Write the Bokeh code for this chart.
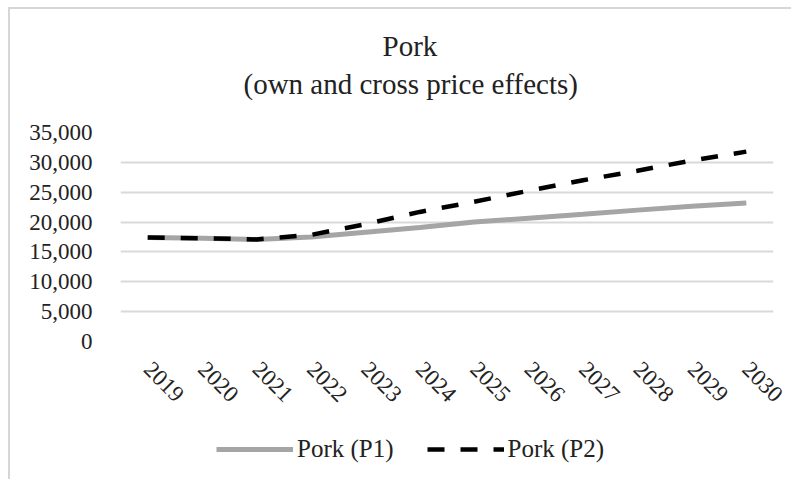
import math
from bokeh.plotting import figure
from bokeh.layouts import column
from bokeh.models import FixedTicker, NumeralTickFormatter, Legend, LegendItem, Title, Range1d
from bokeh.embed import file_html
from bokeh.resources import INLINE

years = ["2019", "2020", "2021", "2022", "2023", "2024", "2025", "2026", "2027", "2028", "2029", "2030"]
pork_p1 = [17400, 17300, 17100, 17500, 18300, 19100, 20000, 20650, 21300, 22000, 22650, 23200]
pork_p2 = [17400, 17300, 17100, 17850, 19650, 21700, 23400, 25250, 27000, 28600, 30300, 31800]
y_ticks = [0, 5000, 10000, 15000, 20000, 25000, 30000, 35000]
series_names = ["Pork (P1)", "Pork (P2)"]

FONT = "Liberation Serif"
P1_STYLE = dict(line_color="#a5a5a5", line_width=5)
P2_STYLE = dict(line_color="#000000", line_width=4.5, line_dash="17 16")

p = figure(x_range=years, y_range=(0, 35000), frame_width=651, frame_height=207,
           output_backend="svg", toolbar_location=None,
           min_border_left=110, min_border_right=20, min_border_top=123, min_border_bottom=80,
           styles={"margin-left": "8px", "margin-top": "7px",
                   "border-left": "2px solid #d6d6d6", "border-top": "2px solid #d6d6d6"})
p.title = None
spacer = Title(text=" ", text_font=FONT, text_font_size="24px", standoff=0)
t2 = Title(text="(own and cross price effects)", align="left", text_font=FONT,
           text_font_size="29px", text_font_style="normal", text_color="#222222",
           standoff=9, offset=123)
t1 = Title(text="Pork", align="left", text_font=FONT,
           text_font_size="29px", text_font_style="normal", text_color="#222222",
           standoff=0, offset=262)
p.add_layout(spacer, "above")
p.add_layout(t2, "above")
p.add_layout(t1, "above")

p.outline_line_color = None
p.xgrid.grid_line_color = None
p.ygrid.grid_line_color = "#d9d9d9"
p.ygrid.grid_line_width = 2

p.yaxis.ticker = FixedTicker(ticks=y_ticks)
p.yaxis.formatter = NumeralTickFormatter(format="0,0")
for ax in (p.xaxis, p.yaxis):
    ax.axis_line_color = None
    ax.major_tick_line_color = None
    ax.minor_tick_line_color = None
    ax.major_label_text_font = FONT
    ax.major_label_text_font_size = "23px"
    ax.major_label_text_color = "#222222"
p.yaxis.major_label_standoff = 22
p.xaxis.major_label_orientation = -math.pi / 4
p.xaxis.major_label_standoff = 18

p.line(years, pork_p1, **P1_STYLE)
p.line(years, pork_p2, **P2_STYLE)

# legend strip below the chart: same series drawn into a range that hides them,
# so only the legend keys show
leg = figure(x_range=years, y_range=Range1d(-2, -1), width=783, height=60,
             output_backend="svg", toolbar_location=None,
             x_axis_location=None, y_axis_location=None,
             min_border_left=0, min_border_right=0, min_border_top=0, min_border_bottom=0,
             styles={"margin-left": "8px", "border-left": "2px solid #d6d6d6"})
leg.outline_line_color = None
leg.grid.grid_line_color = None
k1 = leg.line(years, pork_p1, **P1_STYLE)
k2 = leg.line(years, pork_p2, **P2_STYLE)
legend = Legend(items=[LegendItem(label=series_names[0], renderers=[k1]),
                       LegendItem(label=series_names[1], renderers=[k2])],
                orientation="horizontal", location=(96, 16),
                label_text_font=FONT, label_text_font_size="25px", label_text_color="#222222",
                border_line_color=None, background_fill_alpha=0,
                glyph_width=77, spacing=33, margin=0, padding=0, label_standoff=4)
leg.add_layout(legend, "center")

root = column(p, leg, spacing=0)
open("out.html", "w").write(file_html(root, INLINE))
